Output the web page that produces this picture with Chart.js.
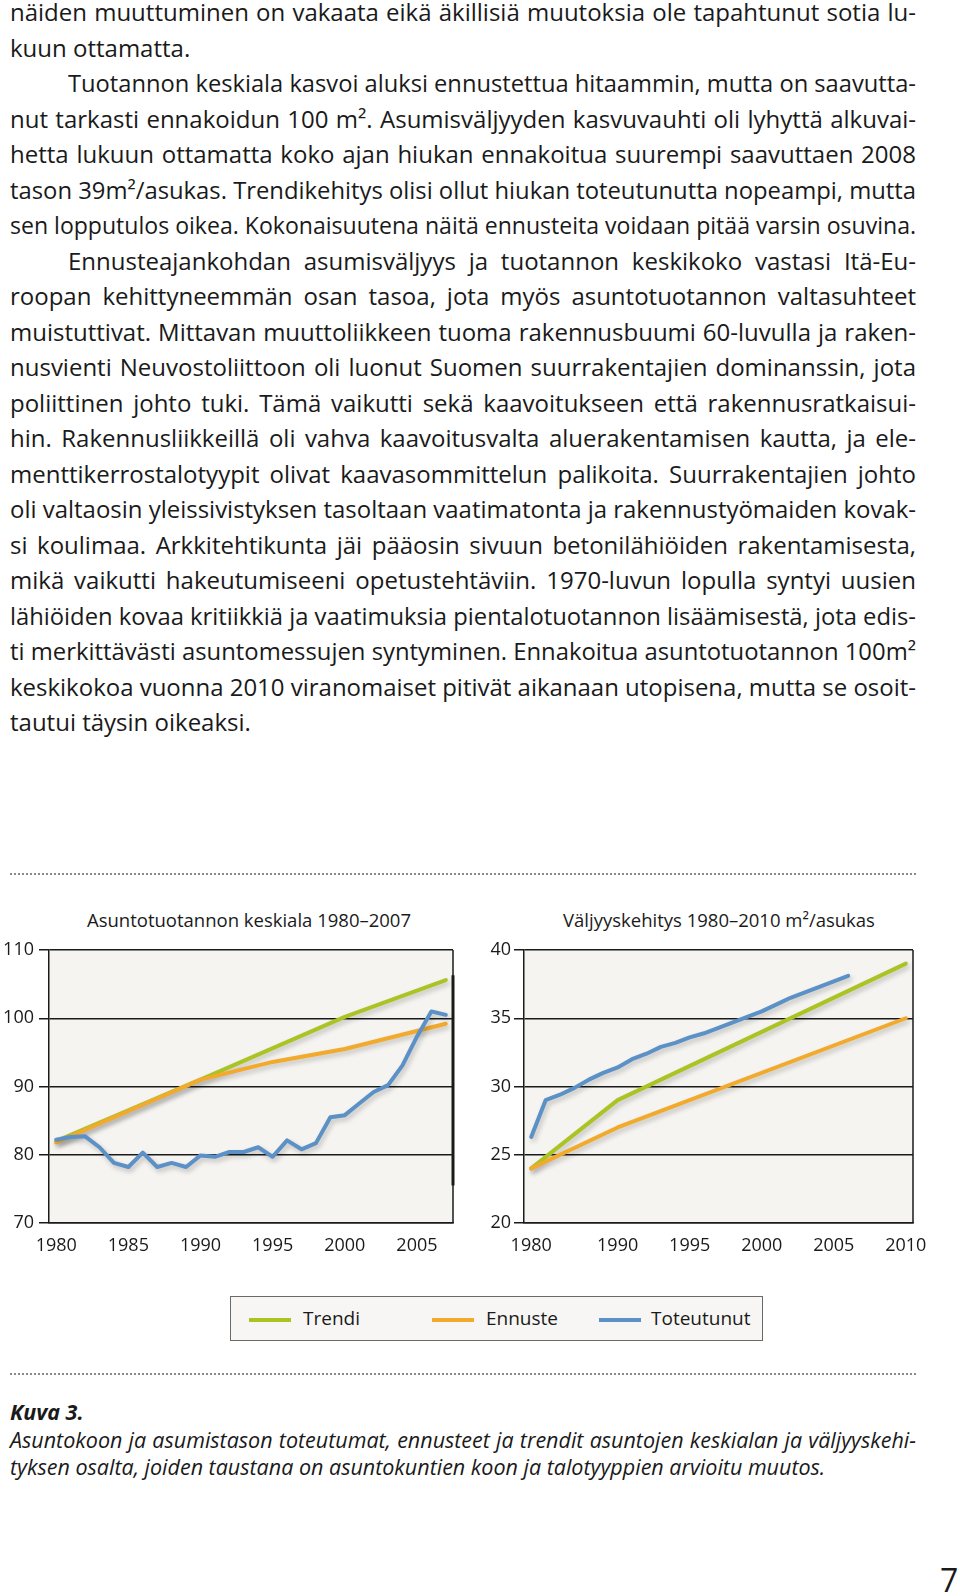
<!DOCTYPE html>
<html lang="fi">
<head>
<meta charset="utf-8">
<title>Kuva 3</title>
<script src="https://cdn.jsdelivr.net/npm/chart.js@4.4.1/dist/chart.umd.min.js"></script>
<style>
  html, body { margin: 0; padding: 0; background: #fff; }
  body { width: 960px; height: 1596px; position: relative; overflow: hidden;
         font-family: "Open Sans", "Noto Sans", sans-serif; color: #1a1a1a; }
  .body-text { position: absolute; left: 10px; top: -5.6px; width: 906px;
               font-size: 24px; line-height: 35.5px; letter-spacing: 0; }
  .ln { white-space: nowrap; height: 35.5px; }
  .ln span { display: inline-block; transform-origin: 0 50%; }
  .ln.ind { padding-left: 58px; }
  .dots { position: absolute; left: 10px; width: 906px; height: 1.6px;
          background: repeating-linear-gradient(90deg, #8a8a8a 0 1.6px, transparent 1.6px 4px); }
  .ctitle { position: absolute; top: 910px; font-size: 18.5px; line-height: 20px; text-align: center; }
  .chartbox { position: absolute; top: 930px; height: 330px; }
  .legend { position: absolute; left: 230px; top: 1296px; width: 531px; height: 43px;
            border: 1px solid #6a6a6a; background: #f7f6f4; }
  .legend .sw { position: absolute; top: 20.5px; width: 42px; height: 4px; }
  .legend .lt { position: absolute; top: 9px; font-size: 19px; line-height: 24px; }
  .caption { position: absolute; left: 10px; top: 1398px; width: 906px; font-size: 21.5px; line-height: 27.5px;
             font-style: italic; letter-spacing: 0; }
  .caption .ln { height: 27.5px; }
  .caption b { font-weight: 700; }
  .pageno { position: absolute; left: 940px; top: 1560px; font-size: 32px; line-height: 40px; }
</style>
</head>
<body>

<div class="body-text" id="txt">
  <div class="ln j"><span>näiden muuttuminen on vakaata eikä äkillisiä muutoksia ole tapahtunut sotia lu-</span></div>
  <div class="ln"><span>kuun ottamatta.</span></div>
  <div class="ln ind j"><span>Tuotannon keskiala kasvoi aluksi ennustettua hitaammin, mutta on saavutta-</span></div>
  <div class="ln j"><span>nut tarkasti ennakoidun 100 m². Asumisväljyyden kasvuvauhti oli lyhyttä alkuvai-</span></div>
  <div class="ln j"><span>hetta lukuun ottamatta koko ajan hiukan ennakoitua suurempi saavuttaen 2008</span></div>
  <div class="ln j"><span>tason 39m²/asukas. Trendikehitys olisi ollut hiukan toteutunutta nopeampi, mutta</span></div>
  <div class="ln j"><span>sen lopputulos oikea. Kokonaisuutena näitä ennusteita voidaan pitää varsin osuvina.</span></div>
  <div class="ln ind j"><span>Ennusteajankohdan asumisväljyys ja tuotannon keskikoko vastasi Itä-Eu-</span></div>
  <div class="ln j"><span>roopan kehittyneemmän osan tasoa, jota myös asuntotuotannon valtasuhteet</span></div>
  <div class="ln j"><span>muistuttivat. Mittavan muuttoliikkeen tuoma rakennusbuumi 60-luvulla ja raken-</span></div>
  <div class="ln j"><span>nusvienti Neuvostoliittoon oli luonut Suomen suurrakentajien dominanssin, jota</span></div>
  <div class="ln j"><span>poliittinen johto tuki. Tämä vaikutti sekä kaavoitukseen että rakennusratkaisui-</span></div>
  <div class="ln j"><span>hin. Rakennusliikkeillä oli vahva kaavoitusvalta aluerakentamisen kautta, ja ele-</span></div>
  <div class="ln j"><span>menttikerrostalotyypit olivat kaavasommittelun palikoita. Suurrakentajien johto</span></div>
  <div class="ln j"><span>oli valtaosin yleissivistyksen tasoltaan vaatimatonta ja rakennustyömaiden kovak-</span></div>
  <div class="ln j"><span>si koulimaa. Arkkitehtikunta jäi pääosin sivuun betonilähiöiden rakentamisesta,</span></div>
  <div class="ln j"><span>mikä vaikutti hakeutumiseeni opetustehtäviin. 1970-luvun lopulla syntyi uusien</span></div>
  <div class="ln j"><span>lähiöiden kovaa kritiikkiä ja vaatimuksia pientalotuotannon lisäämisestä, jota edis-</span></div>
  <div class="ln j"><span>ti merkittävästi asuntomessujen syntyminen. Ennakoitua asuntotuotannon 100m²</span></div>
  <div class="ln j"><span>keskikokoa vuonna 2010 viranomaiset pitivät aikanaan utopisena, mutta se osoit-</span></div>
  <div class="ln"><span>tautui täysin oikeaksi.</span></div>
</div>

<div class="dots" style="top:873px"></div>

<div class="ctitle" style="left:49px; width:400px;">Asuntotuotannon keskiala 1980–2007</div>
<div class="ctitle" style="left:519px; width:400px;">Väljyyskehitys 1980–2010 m²/asukas</div>

<div class="chartbox" style="left:0; width:470px;"><canvas id="chartAla"></canvas></div>
<div class="chartbox" style="left:470px; width:490px;"><canvas id="chartValjyys"></canvas></div>

<div class="legend">
  <div class="sw" style="left:18px; background:#abc424;"></div>
  <div class="lt" style="left:72px;">Trendi</div>
  <div class="sw" style="left:201px; background:#f2aa2c;"></div>
  <div class="lt" style="left:255px;">Ennuste</div>
  <div class="sw" style="left:368px; background:#5b91c6;"></div>
  <div class="lt" style="left:420px;">Toteutunut</div>
</div>

<div class="dots" style="top:1373px"></div>

<div class="caption" id="cap">
  <div class="ln"><span><b>Kuva 3.</b></span></div>
  <div class="ln j"><span>Asuntokoon ja asumistason toteutumat, ennusteet ja trendit asuntojen keskialan ja väljyyskehi-</span></div>
  <div class="ln"><span>tyksen osalta, joiden taustana on asuntokuntien koon ja talotyyppien arvioitu muutos.</span></div>
</div>

<div class="pageno">7</div>

<script>
  // Asuntotuotannon keskiala 1980–2007 (m²)
  const vuodet1 = ['1980', '1981', '1982', '1983', '1984', '1985', '1986', '1987', '1988', '1989',
                   '1990', '1991', '1992', '1993', '1994', '1995', '1996', '1997', '1998', '1999',
                   '2000', '2001', '2002', '2003', '2004', '2005', '2006', '2007'];
  const trendi1 = [82.0, null, null, null, null, null, null, null, null, null,
                   91.0, null, null, null, null, null, null, null, null, null,
                   100.2, null, null, null, null, null, null, 105.6];
  const ennuste1 = [81.8, null, null, null, null, null, null, null, null, null,
                    91.0, null, null, null, null, 93.6, null, null, null, null,
                    95.5, null, null, null, null, null, null, 99.2];
  const toteutunut1 = [82.2, 82.6, 82.7, 81.1, 78.8, 78.2, 80.3, 78.2, 78.8, 78.2,
                       79.9, 79.7, 80.4, 80.4, 81.1, 79.7, 82.1, 80.8, 81.7, 85.5,
                       85.8, 87.5, 89.2, 90.2, 93.1, 97.3, 101.0, 100.5];
  const tikit1 = ['1980', '1985', '1990', '1995', '2000', '2005'];

  // Väljyyskehitys 1980–2010 (m²/asukas)
  const vuodet2 = ['1980', '1985', '1986', '1987', '1988', '1989', '1990', '1991', '1992', '1993',
                   '1994', '1995', '1996', '1997', '1998', '1999', '2000', '2001', '2002', '2003',
                   '2004', '2005', '2006', '2007', '2008', '2009', '2010'];
  const trendi2 = [24.0, null, null, null, null, null, 29.0, null, null, null,
                   null, null, null, null, null, null, null, null, null, null,
                   null, null, null, null, null, null, 39.0];
  const ennuste2 = [24.0, null, null, null, null, null, 27.0, null, null, null,
                    null, null, null, null, null, null, null, null, null, null,
                    null, null, null, null, null, null, 35.0];
  const toteutunut2 = [26.3, 29.0, 29.4, 29.9, 30.5, 31.0, 31.4, 32.0, 32.4, 32.9,
                       33.2, 33.6, 33.9, 34.3, 34.7, 35.1, 35.5, 36.0, 36.5, 36.9,
                       37.3, 37.7, 38.1, null, null, null, null];
  const tikit2 = ['1980', '1990', '1995', '2000', '2005', '2010'];

  const VIHREA = '#abc424';
  const ORANSSI = '#f2aa2c';
  const SININEN = '#5b91c6';
  const VIIVA = '#1a1a1a';

  // tekstirivien tasaus
  function sovitaRivit() {
    document.querySelectorAll('.ln').forEach(el => {
      const span = el.firstElementChild;
      span.style.transform = '';
      span.style.wordSpacing = '';
      const avail = 906 - (el.classList.contains('ind') ? 58 : 0);
      const w = span.getBoundingClientRect().width;
      if (w > avail) {
        span.style.transform = 'scaleX(' + (avail / w) + ')';
      } else if (el.classList.contains('j')) {
        const n = (span.textContent.match(/ /g) || []).length;
        if (n) span.style.wordSpacing = ((avail - w) / n) + 'px';
      }
    });
  }
  sovitaRivit();
  if (document.fonts) document.fonts.ready.then(sovitaRivit);

  // taustaväri, kehys ja varjo viivoille
  const kehys = {
    id: 'kehys',
    beforeDraw(chart) {
      const a = chart.chartArea, ctx = chart.ctx;
      ctx.save();
      ctx.fillStyle = '#f5f4f1';
      ctx.fillRect(a.left, a.top, a.right - a.left, a.bottom - a.top);
      ctx.restore();
    },
    beforeDatasetsDraw(chart, args, opts) {
      const a = chart.chartArea, ctx = chart.ctx;
      ctx.save();
      ctx.strokeStyle = VIIVA;
      ctx.lineWidth = 1.5;
      ctx.beginPath();
      ctx.moveTo(a.right, a.top);
      ctx.lineTo(a.right, a.bottom);
      ctx.stroke();
      if (opts.paksu) {
        const y = chart.scales.y;
        ctx.lineWidth = 3;
        ctx.beginPath();
        ctx.moveTo(a.right, y.getPixelForValue(opts.paksu[0]));
        ctx.lineTo(a.right, y.getPixelForValue(opts.paksu[1]));
        ctx.stroke();
      }
      ctx.restore();
      ctx.save();
      ctx.shadowColor = 'rgba(0, 0, 0, 0.22)';
      ctx.shadowBlur = 5;
      ctx.shadowOffsetX = 2;
      ctx.shadowOffsetY = 3;
    },
    afterDatasetsDraw(chart) {
      chart.ctx.restore();
    }
  };

  function sarja(label, data, color) {
    return {
      label: label,
      data: data,
      borderColor: color,
      backgroundColor: color,
      borderWidth: 4,
      pointRadius: 0,
      tension: 0,
      spanGaps: true,
      borderCapStyle: 'round',
      borderJoinStyle: 'round',
      fill: false
    };
  }

  function teeKaavio(id, labels, tikit, datasets, yMin, yMax, step, yLeveys, oikea, tickPad, paksu) {
    return new Chart(document.getElementById(id), {
      type: 'line',
      data: { labels: labels, datasets: datasets },
      plugins: [kehys],
      options: {
        responsive: true,
        maintainAspectRatio: false,
        animation: false,
        layout: { padding: { top: 20, right: oikea, left: 0, bottom: 0 } },
        plugins: {
          legend: { display: false },
          tooltip: { enabled: false },
          kehys: { paksu: paksu }
        },
        scales: {
          x: {
            offset: true,
            grid: { display: false },
            border: { display: true, color: VIIVA, width: 1.5 },
            ticks: {
              autoSkip: false,
              maxRotation: 0,
              padding: 4,
              color: VIIVA,
              font: { family: 'Open Sans', size: 18 },
              callback: function (v) {
                const l = this.getLabelForValue(v);
                return tikit.includes(l) ? l : '';
              }
            },
            afterFit: s => { s.height = 37; }
          },
          y: {
            min: yMin,
            max: yMax,
            grid: { color: VIIVA, lineWidth: 1.5, tickLength: 10, drawTicks: true },
            border: { display: true, color: VIIVA, width: 1.5 },
            ticks: {
              stepSize: step,
              padding: tickPad,
              color: VIIVA,
              font: { family: 'Open Sans', size: 18 }
            },
            afterFit: s => { s.width = yLeveys; }
          }
        }
      }
    });
  }

  teeKaavio('chartAla', vuodet1, tikit1, [
    sarja('Toteutunut', toteutunut1, SININEN),
    sarja('Ennuste', ennuste1, ORANSSI),
    sarja('Trendi', trendi1, VIHREA)
  ], 70, 110, 10, 49, 17, 5, [106.3, 75.5]);

  teeKaavio('chartValjyys', vuodet2, tikit2, [
    sarja('Toteutunut', toteutunut2, SININEN),
    sarja('Ennuste', ennuste2, ORANSSI),
    sarja('Trendi', trendi2, VIHREA)
  ], 20, 40, 5, 54, 47, 3, null);
</script>
</body>
</html>
